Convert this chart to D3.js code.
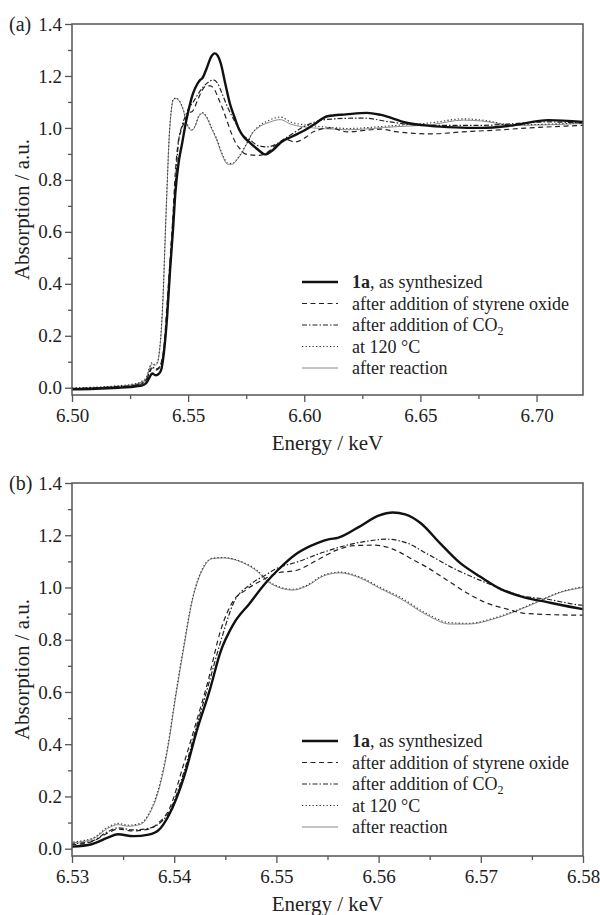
<!DOCTYPE html>
<html><head><meta charset="utf-8">
<script src="https://cdn.jsdelivr.net/npm/d3@7"></script>
<style>
body{margin:0;background:#fff;}
svg{display:block;}
text{font-family:"Liberation Serif","Times New Roman",serif;fill:#222;}
</style></head>
<body><svg id="chart" width="600" height="915"></svg>
<script>
// ---------- data (energy in keV, absorption in a.u.) ----------
const eAsSynth = [6.500,6.510,6.520,6.525,6.530,6.532,6.5335,6.5345,6.536,6.5375,6.5385,6.5395,6.541,6.5422,6.5435,6.5445,6.5458,6.5474,6.5489,6.5501,6.552,6.554,6.5552,6.556,6.558,6.560,6.5614,6.5626,6.5641,6.566,6.568,6.570,6.572,6.574,6.5765,6.580,6.5832,6.5865,6.590,6.595,6.600,6.604,6.610,6.618,6.627,6.633,6.644,6.654,6.665,6.676,6.690,6.705,6.720];
const vAsSynth = [-0.006,-0.004,0.000,0.003,0.008,0.018,0.042,0.055,0.048,0.054,0.072,0.13,0.28,0.45,0.61,0.75,0.86,0.94,1.015,1.065,1.13,1.17,1.185,1.19,1.23,1.275,1.287,1.28,1.247,1.17,1.093,1.04,0.993,0.965,0.944,0.917,0.898,0.915,0.945,0.968,0.99,1.012,1.045,1.052,1.058,1.05,1.02,1.008,1.002,1.0,1.01,1.03,1.023];

const eStyrene = [6.500,6.510,6.520,6.525,6.530,6.532,6.5335,6.5345,6.536,6.5375,6.5385,6.5395,6.5409,6.5422,6.5433,6.5445,6.5458,6.5470,6.5486,6.5501,6.552,6.554,6.5559,6.5575,6.5595,6.5614,6.5631,6.5647,6.5667,6.5687,6.5706,6.5726,6.5745,6.580,6.583,6.588,6.592,6.5961,6.600,6.6039,6.6112,6.6185,6.6328,6.640,6.654,6.6685,6.683,6.697,6.720];
const vStyrene = [-0.004,-0.002,0.003,0.006,0.015,0.028,0.06,0.075,0.068,0.075,0.1,0.15,0.32,0.49,0.64,0.83,0.95,0.99,1.028,1.055,1.066,1.105,1.143,1.16,1.162,1.147,1.112,1.078,1.028,0.978,0.94,0.917,0.90,0.894,0.90,0.935,0.955,0.946,0.96,0.985,1.0,0.985,0.995,0.985,0.977,0.985,0.992,1.0,1.01];

const eCO2 = [6.500,6.510,6.520,6.525,6.530,6.532,6.5335,6.5345,6.536,6.5375,6.5385,6.5395,6.541,6.5422,6.5433,6.5446,6.5458,6.5474,6.5489,6.5501,6.552,6.5546,6.5572,6.5590,6.5608,6.5628,6.5647,6.5673,6.5699,6.5719,6.5738,6.5765,6.580,6.584,6.5927,6.5996,6.610,6.625,6.637,6.650,6.676,6.705,6.720];
const vCO2 = [-0.003,0.0,0.004,0.007,0.018,0.03,0.065,0.08,0.072,0.078,0.095,0.14,0.30,0.47,0.62,0.80,0.94,1.01,1.047,1.074,1.097,1.135,1.165,1.178,1.185,1.17,1.13,1.074,1.028,0.997,0.97,0.955,0.932,0.927,0.965,1.004,1.033,1.038,1.023,1.01,1.01,1.023,1.019];

const e120C = [6.500,6.510,6.520,6.525,6.530,6.532,6.5335,6.5345,6.5355,6.5367,6.5376,6.5386,6.5394,6.5401,6.5409,6.5418,6.5428,6.5437,6.5448,6.5467,6.5481,6.5491,6.5504,6.5516,6.5530,6.5546,6.5562,6.5582,6.5601,6.5621,6.5647,6.5670,6.5689,6.5712,6.5735,6.5758,6.5777,6.5800,6.5850,6.5897,6.594,6.6039,6.6142,6.6185,6.640,6.654,6.6685,6.676,6.690,6.720];
const v120C = [0.0,0.002,0.008,0.012,0.025,0.04,0.082,0.097,0.09,0.097,0.14,0.25,0.40,0.58,0.77,0.96,1.075,1.112,1.115,1.097,1.066,1.028,1.001,0.993,1.009,1.047,1.059,1.04,1.001,0.963,0.90,0.865,0.863,0.882,0.913,0.951,0.982,1.003,1.03,1.042,1.023,1.008,1.0,0.998,1.01,1.019,1.035,1.031,1.012,1.02];

const eAfter = e120C.slice();
const vAfter = [-0.002,0.0,0.006,0.01,0.022,0.036,0.078,0.092,0.086,0.093,0.135,0.24,0.39,0.57,0.76,0.955,1.07,1.11,1.113,1.095,1.062,1.024,0.998,0.99,1.006,1.044,1.056,1.036,0.997,0.958,0.895,0.86,0.86,0.879,0.91,0.948,0.98,1.0,1.022,1.032,1.015,1.0,0.995,0.993,1.005,1.012,1.03,1.027,1.01,1.017];

const seriesNames = ["as synthesized","after addition of styrene oxide","after addition of CO2","at 120 °C","after reaction"];

const yTicksMajor = [0.0,0.2,0.4,0.6,0.8,1.0,1.2,1.4];
const yTicksMinor = [0.1,0.3,0.5,0.7,0.9,1.1,1.3];
const xTicksA = [6.50,6.55,6.60,6.65,6.70];
const xMinorA = [6.525,6.575,6.625,6.675];
const xTicksB = [6.53,6.54,6.55,6.56,6.57,6.58];
const xMinorB = [6.535,6.545,6.555,6.565,6.575];

// ---------- styles ----------
const styles = [
  {stroke:"#111", width:2.4, dash:null},
  {stroke:"#222", width:1.2, dash:"5,3.5"},
  {stroke:"#222", width:1.2, dash:"5,2,1.5,2"},
  {stroke:"#333", width:1.1, dash:"1.3,2.2"},
  {stroke:"#8a8a8a", width:1.0, dash:null}
];

const series = [
  {e:eAsSynth, v:vAsSynth},
  {e:eStyrene, v:vStyrene},
  {e:eCO2, v:vCO2},
  {e:e120C, v:v120C},
  {e:eAfter, v:vAfter}
];

const svg = d3.select("#chart");
const left = 72, right = 583;

function panel(id, top, bottom, xDomain, xMajor, xMinor, tag) {
  const x = d3.scaleLinear().domain(xDomain).range([left, right]);
  const y = d3.scaleLinear().domain([-0.028, 1.4]).range([bottom, top]);
  const g = svg.append("g");

  g.append("clipPath").attr("id", "clip" + id)
    .append("rect").attr("x", left).attr("y", top).attr("width", right - left).attr("height", bottom - top);

  const line = d3.line().curve(d3.curveMonotoneX);
  const order = [4, 3, 2, 1, 0];
  const lines = g.append("g").attr("clip-path", "url(#clip" + id + ")");
  order.forEach(i => {
    const s = series[i], st = styles[i];
    const pts = s.e.map((e, k) => [x(e), y(s.v[k])]);
    lines.append("path").attr("d", line(pts)).attr("fill", "none")
      .attr("stroke", st.stroke).attr("stroke-width", st.width)
      .attr("stroke-dasharray", st.dash).attr("stroke-linejoin", "round");
  });

  // axes
  const axisColor = "#555";
  const xAx = g.append("g").attr("transform", `translate(0,${bottom})`)
    .call(d3.axisBottom(x).tickValues(xMajor).tickFormat(d3.format(".2f")).tickSize(7).tickSizeOuter(0).tickPadding(7));
  const xAxMin = g.append("g").attr("transform", `translate(0,${bottom})`)
    .call(d3.axisBottom(x).tickValues(xMinor).tickFormat("").tickSize(4).tickSizeOuter(0));
  const yAx = g.append("g").attr("transform", `translate(${left},0)`)
    .call(d3.axisLeft(y).tickValues(yTicksMajor).tickFormat(d3.format(".1f")).tickSize(7).tickSizeOuter(0).tickPadding(3));
  const yAxMin = g.append("g").attr("transform", `translate(${left},0)`)
    .call(d3.axisLeft(y).tickValues(yTicksMinor).tickFormat("").tickSize(4).tickSizeOuter(0));
  [xAx, xAxMin, yAx, yAxMin].forEach(a => {
    a.select(".domain").remove();
    a.selectAll("line").attr("stroke", axisColor).attr("stroke-width", 1.3);
    a.selectAll("text").attr("font-size", 19).attr("fill", "#222")
      .attr("font-family", '"Liberation Serif","Times New Roman",serif');
  });

  // frame
  g.append("rect").attr("x", left).attr("y", top).attr("width", right - left).attr("height", bottom - top)
    .attr("fill", "none").attr("stroke", axisColor).attr("stroke-width", 1.5);

  // titles
  g.append("text").attr("x", (left + right) / 2).attr("y", bottom + 55).attr("text-anchor", "middle")
    .attr("font-size", 21).text("Energy / keV");
  g.append("text").attr("transform", `translate(29,${(top + bottom) / 2}) rotate(-90)`).attr("text-anchor", "middle")
    .attr("font-size", 21).text("Absorption / a.u.");
  g.append("text").attr("x", 9).attr("y", top + 6.5).attr("font-size", 20).text(tag);

  // legend
  const lg = g.append("g");
  series.forEach((s, i) => {
    const cy = top + 258 + i * 21.5;
    const st = styles[i];
    lg.append("line").attr("x1", 302).attr("x2", 338).attr("y1", cy).attr("y2", cy)
      .attr("stroke", st.stroke).attr("stroke-width", st.width).attr("stroke-dasharray", st.dash);
    const t = lg.append("text").attr("x", 352).attr("y", cy + 6).attr("font-size", 18);
    const name = seriesNames[i];
    if (i === 0) {
      t.append("tspan").attr("font-weight", "bold").text("1a");
      t.append("tspan").text(", " + name);
    } else if (name.endsWith("CO2")) {
      t.append("tspan").text(name.slice(0, -1));
      t.append("tspan").attr("font-size", 12).attr("dy", 4).text("2");
    } else {
      t.text(name);
    }
  });
}

panel("A", 24, 395, [6.50, 6.72], xTicksA, xMinorA, "(a)");
panel("B", 483, 856, [6.53, 6.58], xTicksB, xMinorB, "(b)");
</script>
</body></html>
